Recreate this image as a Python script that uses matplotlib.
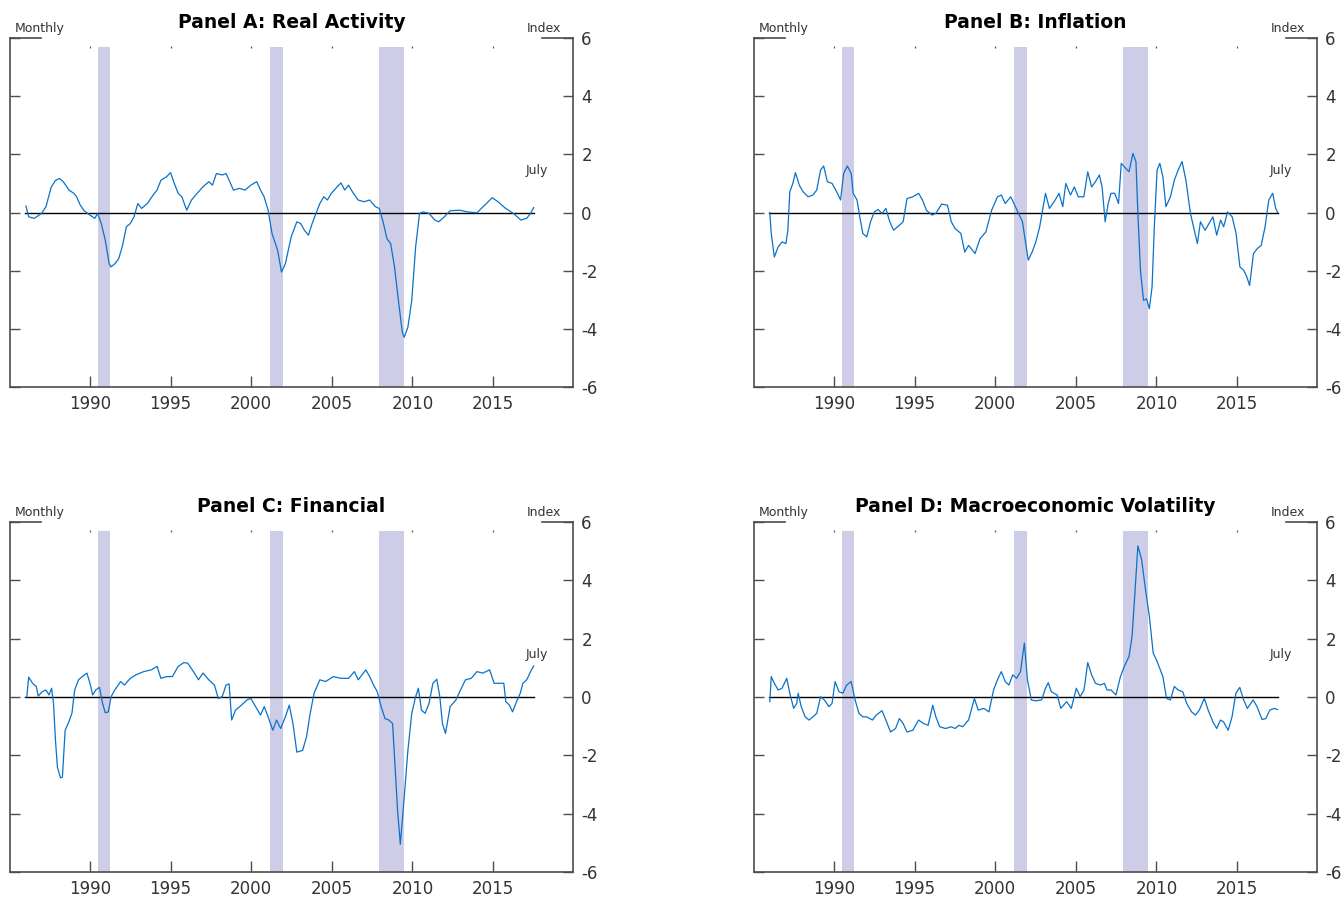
import numpy as np
import matplotlib.pyplot as plt

# readings of each index (decimal year, index value)
a_year = [1986.03, 1986.2, 1986.55, 1987.0, 1987.27, 1987.6, 1987.86, 1988.1, 1988.34, 1988.7,
          1989.0, 1989.17, 1989.4, 1989.64, 1990.0, 1990.3, 1990.48, 1990.7, 1990.95, 1991.19,
          1991.3, 1991.55, 1991.78, 1992.0, 1992.26, 1992.5, 1992.73, 1992.97, 1993.2, 1993.56,
          1993.92, 1994.16, 1994.4, 1994.75, 1995.0, 1995.23, 1995.47, 1995.7, 1996.0, 1996.3,
          1996.65, 1997.0, 1997.37, 1997.6, 1997.84, 1998.2, 1998.44, 1998.67, 1998.9, 1999.27,
          1999.62, 1999.98, 2000.34, 2000.58, 2000.8, 2001.05, 2001.29, 2001.64, 2001.88, 2002.12,
          2002.48, 2002.83, 2003.07, 2003.3, 2003.55, 2003.78, 2004.02, 2004.26, 2004.5, 2004.73,
          2004.97, 2005.33, 2005.57, 2005.8, 2006.04, 2006.28, 2006.63, 2006.99, 2007.35, 2007.7,
          2007.94, 2008.18, 2008.42, 2008.65, 2008.89, 2009.13, 2009.37, 2009.49, 2009.72, 2009.96,
          2010.2, 2010.44, 2010.67, 2011.03, 2011.39, 2011.63, 2011.98, 2012.34, 2012.93, 2013.41,
          2014.0, 2014.48, 2014.95, 2015.31, 2015.78, 2016.26, 2016.73, 2017.09, 2017.33, 2017.52]
a_val = [0.22, -0.15, -0.2, -0.03, 0.2, 0.88, 1.1, 1.17, 1.06, 0.77,
         0.66, 0.54, 0.25, 0.06, -0.09, -0.2, -0.03, -0.38, -0.95, -1.76,
         -1.87, -1.76, -1.59, -1.18, -0.49, -0.38, -0.15, 0.31, 0.14, 0.31,
         0.6, 0.77, 1.11, 1.23, 1.37, 1.0, 0.66, 0.54, 0.08, 0.43,
         0.66, 0.88, 1.06, 0.94, 1.34, 1.29, 1.34, 1.06, 0.77, 0.83,
         0.77, 0.94, 1.06, 0.77, 0.54, 0.08, -0.72, -1.3, -2.05, -1.76,
         -0.84, -0.32, -0.38, -0.61, -0.78, -0.38, -0.03, 0.31, 0.54, 0.43,
         0.66, 0.88, 1.02, 0.77, 0.94, 0.71, 0.43, 0.37, 0.43, 0.2,
         0.14, -0.32, -0.9, -1.07, -1.87, -3.02, -4.11, -4.29, -3.94, -3.02,
         -1.18, -0.03, 0.02, -0.03, -0.26, -0.32, -0.15, 0.06, 0.08, 0.02,
         -0.01, 0.25, 0.51, 0.37, 0.14, -0.03, -0.26, -0.2, -0.03, 0.17]

b_year = [1986.02, 1986.11, 1986.3, 1986.54, 1986.78, 1987.02, 1987.14, 1987.26, 1987.45, 1987.61,
          1987.85, 1988.09, 1988.4, 1988.69, 1988.93, 1989.17, 1989.36, 1989.59, 1989.88, 1990.17,
          1990.41, 1990.6, 1990.83, 1991.07, 1991.19, 1991.43, 1991.6, 1991.79, 1992.03, 1992.27,
          1992.5, 1992.74, 1992.98, 1993.22, 1993.46, 1993.7, 1993.94, 1994.29, 1994.53, 1994.89,
          1995.25, 1995.49, 1995.73, 1996.08, 1996.32, 1996.68, 1997.04, 1997.28, 1997.51, 1997.87,
          1998.11, 1998.35, 1998.75, 1999.06, 1999.42, 1999.78, 2000.14, 2000.38, 2000.62, 2000.97,
          2001.21, 2001.45, 2001.69, 2002.05, 2002.29, 2002.52, 2002.76, 2003.12, 2003.36, 2003.72,
          2003.96, 2004.19, 2004.38, 2004.67, 2004.91, 2005.15, 2005.5, 2005.74, 2005.98, 2006.22,
          2006.46, 2006.63, 2006.82, 2007.01, 2007.18, 2007.41, 2007.65, 2007.82, 2008.01, 2008.3,
          2008.54, 2008.73, 2008.85, 2009.01, 2009.2, 2009.39, 2009.56, 2009.73, 2009.87, 2010.04,
          2010.21, 2010.4, 2010.59, 2010.87, 2011.11, 2011.35, 2011.59, 2011.83, 2012.11, 2012.3,
          2012.54, 2012.73, 2013.02, 2013.26, 2013.5, 2013.74, 2013.98, 2014.17, 2014.41, 2014.7,
          2014.94, 2015.18, 2015.42, 2015.61, 2015.78, 2016.02, 2016.26, 2016.5, 2016.74, 2016.97,
          2017.21, 2017.4, 2017.52]
b_val = [0.0, -0.72, -1.53, -1.18, -1.01, -1.07, -0.61, 0.71, 1.0, 1.37,
         0.94, 0.71, 0.54, 0.6, 0.77, 1.46, 1.6, 1.06, 1.0, 0.71,
         0.43, 1.34, 1.6, 1.34, 0.66, 0.43, -0.15, -0.72, -0.84, -0.32,
         0.02, 0.1, -0.03, 0.14, -0.32, -0.61, -0.49, -0.32, 0.48, 0.54,
         0.66, 0.43, 0.08, -0.09, -0.03, 0.29, 0.25, -0.32, -0.55, -0.72,
         -1.36, -1.13, -1.41, -0.9, -0.67, 0.08, 0.54, 0.6, 0.31, 0.54,
         0.25, -0.03, -0.32, -1.64, -1.36, -1.01, -0.49, 0.66, 0.14, 0.43,
         0.66, 0.2, 1.0, 0.6, 0.88, 0.54, 0.54, 1.4, 0.88, 1.06,
         1.29, 0.88, -0.32, 0.31, 0.66, 0.66, 0.31, 1.69, 1.57, 1.4,
         2.03, 1.75, -0.03, -1.99, -3.02, -2.97, -3.31, -2.56, -0.49, 1.46,
         1.69, 1.23, 0.2, 0.54, 1.11, 1.46, 1.75, 1.11, -0.03, -0.49,
         -1.07, -0.32, -0.61, -0.38, -0.15, -0.78, -0.26, -0.49, 0.02, -0.15,
         -0.72, -1.87, -1.99, -2.22, -2.51, -1.41, -1.24, -1.13, -0.49, 0.43,
         0.66, 0.14, 0.0]

c_year = [1986.08, 1986.2, 1986.44, 1986.67, 1986.79, 1987.03, 1987.27, 1987.46, 1987.62, 1987.74,
          1987.86, 1987.98, 1988.17, 1988.29, 1988.46, 1988.69, 1988.88, 1989.05, 1989.29, 1989.52,
          1989.81, 1990.0, 1990.17, 1990.36, 1990.59, 1990.78, 1990.95, 1991.14, 1991.31, 1991.54,
          1991.9, 1992.14, 1992.5, 1992.85, 1993.33, 1993.8, 1994.16, 1994.4, 1994.75, 1995.11,
          1995.47, 1995.82, 1996.06, 1996.42, 1996.73, 1997.01, 1997.37, 1997.72, 1997.96, 1998.2,
          1998.44, 1998.63, 1998.79, 1999.03, 1999.39, 1999.74, 1999.98, 2000.22, 2000.58, 2000.81,
          2001.05, 2001.34, 2001.57, 2001.83, 2002.12, 2002.36, 2002.59, 2002.83, 2003.19, 2003.43,
          2003.66, 2003.9, 2004.26, 2004.62, 2005.09, 2005.57, 2006.04, 2006.4, 2006.64, 2007.11,
          2007.35, 2007.59, 2007.82, 2008.06, 2008.3, 2008.54, 2008.77, 2008.89, 2009.08, 2009.25,
          2009.49, 2009.72, 2009.96, 2010.2, 2010.37, 2010.56, 2010.79, 2011.03, 2011.27, 2011.51,
          2011.7, 2011.86, 2012.05, 2012.34, 2012.7, 2012.93, 2013.29, 2013.65, 2014.0, 2014.36,
          2014.79, 2015.07, 2015.43, 2015.67, 2015.79, 2016.02, 2016.21, 2016.5, 2016.69, 2016.85,
          2017.09, 2017.33, 2017.52]
c_val = [0.0, 0.68, 0.47, 0.36, 0.03, 0.18, 0.24, 0.07, 0.3, -0.22,
         -1.48, -2.4, -2.77, -2.75, -1.14, -0.85, -0.56, 0.24, 0.59, 0.7,
         0.82, 0.47, 0.07, 0.24, 0.33, -0.22, -0.54, -0.51, 0.01, 0.24,
         0.53, 0.41, 0.64, 0.76, 0.87, 0.93, 1.05, 0.64, 0.7, 0.7,
         1.05, 1.18, 1.16, 0.87, 0.59, 0.82, 0.59, 0.41, -0.05, 0.01,
         0.41, 0.45, -0.79, -0.45, -0.28, -0.1, -0.05, -0.28, -0.62, -0.33,
         -0.68, -1.14, -0.79, -1.08, -0.68, -0.28, -0.91, -1.89, -1.83, -1.37,
         -0.56, 0.13, 0.59, 0.53, 0.7, 0.64, 0.64, 0.87, 0.59, 0.93,
         0.7, 0.41, 0.18, -0.33, -0.74, -0.79, -0.91, -2.06, -3.9, -5.05,
         -3.44, -1.83, -0.56, 0.01, 0.3, -0.45, -0.56, -0.22, 0.47, 0.61,
         0.01, -0.91, -1.25, -0.33, -0.1, 0.18, 0.59, 0.64, 0.87, 0.82,
         0.93, 0.47, 0.47, 0.47, -0.16, -0.28, -0.51, -0.1, 0.13, 0.47,
         0.59, 0.87, 1.07]

d_year = [1986.02, 1986.11, 1986.3, 1986.54, 1986.78, 1987.07, 1987.26, 1987.5, 1987.69, 1987.78,
          1987.97, 1988.21, 1988.45, 1988.69, 1988.93, 1989.17, 1989.4, 1989.69, 1989.88, 1990.07,
          1990.31, 1990.55, 1990.79, 1991.07, 1991.31, 1991.55, 1991.79, 1992.03, 1992.39, 1992.62,
          1992.98, 1993.22, 1993.51, 1993.82, 1994.06, 1994.29, 1994.53, 1994.89, 1995.25, 1995.56,
          1995.84, 1996.13, 1996.32, 1996.56, 1996.92, 1997.28, 1997.51, 1997.75, 1997.99, 1998.35,
          1998.71, 1998.95, 1999.3, 1999.61, 1999.9, 2000.14, 2000.38, 2000.62, 2000.85, 2001.09,
          2001.33, 2001.57, 2001.81, 2002.0, 2002.24, 2002.52, 2002.88, 2003.12, 2003.29, 2003.48,
          2003.84, 2004.07, 2004.43, 2004.72, 2005.03, 2005.27, 2005.51, 2005.74, 2005.98, 2006.22,
          2006.53, 2006.77, 2006.94, 2007.18, 2007.49, 2007.77, 2008.01, 2008.3, 2008.49, 2008.68,
          2008.85, 2009.08, 2009.32, 2009.56, 2009.8, 2010.04, 2010.4, 2010.63, 2010.87, 2011.11,
          2011.35, 2011.63, 2011.88, 2012.18, 2012.42, 2012.66, 2012.97, 2013.21, 2013.5, 2013.74,
          2013.97, 2014.16, 2014.45, 2014.69, 2014.93, 2015.17, 2015.41, 2015.64, 2016.0, 2016.24,
          2016.55, 2016.79, 2017.03, 2017.31, 2017.5]
d_val = [-0.16, 0.7, 0.47, 0.24, 0.3, 0.64, 0.13, -0.39, -0.22, 0.13,
         -0.33, -0.68, -0.79, -0.68, -0.56, 0.01, -0.1, -0.33, -0.22, 0.53,
         0.18, 0.13, 0.41, 0.53, -0.1, -0.56, -0.68, -0.68, -0.79, -0.62,
         -0.47, -0.79, -1.2, -1.08, -0.74, -0.91, -1.2, -1.14, -0.79, -0.91,
         -0.97, -0.28, -0.68, -1.02, -1.08, -1.02, -1.08, -0.97, -1.02, -0.79,
         -0.05, -0.45, -0.39, -0.51, 0.24, 0.59, 0.87, 0.53, 0.41, 0.76,
         0.64, 0.87, 1.85, 0.59, -0.1, -0.13, -0.1, 0.3, 0.49, 0.18,
         0.07, -0.39, -0.16, -0.39, 0.3, 0.01, 0.24, 1.18, 0.76, 0.47,
         0.41, 0.47, 0.24, 0.24, 0.07, 0.7, 1.05, 1.39, 2.08, 3.69,
         5.18, 4.72, 3.69, 2.77, 1.51, 1.22, 0.7, -0.05, -0.1, 0.36,
         0.24, 0.18, -0.22, -0.51, -0.62, -0.45, -0.05, -0.45, -0.85, -1.08,
         -0.79, -0.85, -1.14, -0.68, 0.13, 0.33, -0.1, -0.39, -0.1, -0.33,
         -0.77, -0.74, -0.45, -0.39, -0.43]

titles = ["Panel A: Real Activity", "Panel B: Inflation",
          "Panel C: Financial", "Panel D: Macroeconomic Volatility"]
recessions = [(1990.5, 1991.25), (2001.17, 2002.0), (2007.92, 2009.5)]
year_ticks = [1990, 1995, 2000, 2005, 2010, 2015]
y_ticks = [-6, -4, -2, 0, 2, 4, 6]

W, H = 1341, 897
fig = plt.figure(figsize=(W / 100, H / 100), dpi=100)

# (left, top, bottom) of each plot box in pixels
boxes = [(10, 38, 387), (754, 38, 387), (10, 522, 872), (754, 522, 872)]
series = [(a_year, a_val), (b_year, b_val), (c_year, c_val), (d_year, d_val)]

spine_col = '#4d4d4d'
txt_col = '#333333'

for (left, top, bot), (xs, ys), title in zip(boxes, series, titles):
    ax = fig.add_axes([left / W, (H - bot) / H, 563 / W, (bot - top) / H])
    ax.set_xlim(1985.04, 2019.96)
    ax.set_ylim(-6, 6)

    for r0, r1 in recessions:
        ax.axvspan(r0, r1, ymin=0, ymax=0.974, color='#cdcde8', lw=0, zorder=1)

    ax.plot([1986.0, 2017.52], [0, 0], color='black', lw=1.0, zorder=2)
    ax.plot(xs, ys, color='#0a72c8', lw=0.9, zorder=3)

    # little tick marks along the top
    ax.vlines(year_ticks, 5.66, 5.72, color='#555555', lw=0.9, zorder=2)

    # partial top border under "Monthly" and "Index"
    ax.plot([0, 0.055], [1, 1], transform=ax.transAxes, color=spine_col,
            lw=1.2, clip_on=False)
    ax.plot([0.945, 1], [1, 1], transform=ax.transAxes, color=spine_col,
            lw=1.2, clip_on=False)

    ax.spines['top'].set_visible(False)
    for s in ['left', 'right', 'bottom']:
        ax.spines[s].set_color(spine_col)
        ax.spines[s].set_linewidth(1.2)

    ax.set_xticks(year_ticks)
    ax.set_xticklabels([str(y) for y in year_ticks])
    ax.set_yticks(y_ticks)
    ax.set_yticklabels([str(v) for v in y_ticks])
    ax.tick_params(axis='x', direction='in', length=8, width=1, color=spine_col,
                   labelsize=12, labelcolor=txt_col, pad=6, top=False)
    ax.tick_params(axis='y', direction='in', length=7.5, width=1, color=spine_col,
                   left=True, right=True, labelleft=False, labelright=True,
                   labelsize=12, labelcolor=txt_col, pad=6)

    hgt = bot - top
    ax.text(0.5, 1 + 16 / hgt, title, transform=ax.transAxes, ha='center',
            va='center', fontsize=13.5, fontweight='bold', color='black')
    ax.text(0.009, 1 + 10 / hgt, "Monthly", transform=ax.transAxes, ha='left',
            va='center', fontsize=9, color=txt_col)
    ax.text(0.979, 1 + 10 / hgt, "Index", transform=ax.transAxes, ha='right',
            va='center', fontsize=9, color=txt_col)
    ax.text(2017.7, 1.45, "July", ha='center', va='center', fontsize=9,
            color=txt_col)

fig.savefig("out.png", dpi=100)
